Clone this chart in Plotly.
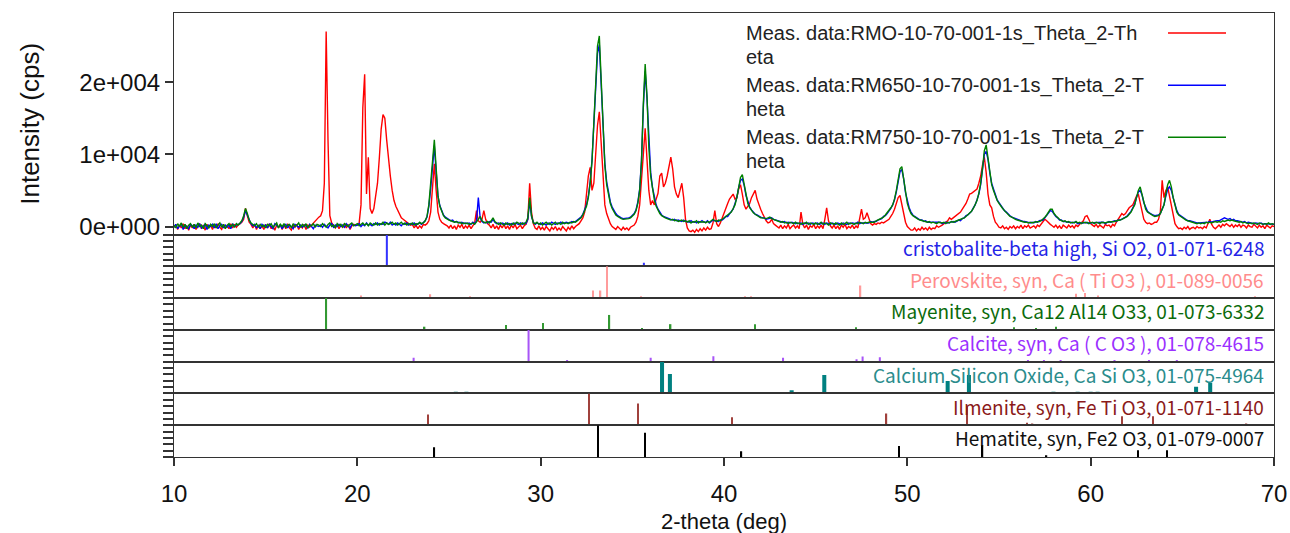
import plotly.graph_objects as go
from plotly.subplots import make_subplots

# ---------------- data ----------------
# scan axis: 10.0 .. 70.0 deg, 0.1 deg step (601 points)
two_theta = [round(10.0 + 0.1 * i, 1) for i in range(601)]

# intensities in units of 100 cps, one row per degree (D.0 .. D.9)
red_hcps = [
    -1, 3, -4, 2, -2, 4, -3, 1, -5, 2,        # 10
    -2, 3, -4, 1, 4, -3, 2, -5, 3, -1,        # 11
    2, -4, 3, -2, 4, -1, -4, 3, -2, 1,        # 12
    -3, 4, -2, 3, -1, 2, 4, 6, 10, 25,        # 13
    15, 6, 3, -2, 3, -4, 2, -3, 1, -4,        # 14
    3, -2, 4, -3, 1, -5, 2, -1, 3, -4,        # 15
    2, -3, 4, -2, -5, 2, -1, 3, -4, 1,        # 16
    -2, 3, -4, 2, -1, 2, 4, 7, 10, 13,        # 17
    15, 22, 60, 270, 120, 15, 5, 2, -2, 3,    # 18
    -3, 2, -1, 4, -2, 3, -4, 1, 3, 2,         # 19
    2, 5, 30, 165, 211, 45, 96, 25, 18, 25,   # 20
    40, 60, 95, 135, 155, 150, 120, 90, 70, 50,  # 21
    36, 28, 22, 16, 12, 10, 8, 6, 4, 2,       # 22
    3, -2, 2, -3, 1, -2, 3, 2, 4, 8,          # 23
    20, 55, 87, 50, 20, 10, 6, 4, 3, 1,       # 24
    -2, 2, -3, 1, -4, 2, -1, 3, -3, 1,        # 25
    -2, 2, -3, 1, 5, 22, 8, 6, 10, 22,        # 26
    10, 4, 2, -2, 3, -3, 1, -4, 2, -2,        # 27
    3, -3, 1, -4, 2, -2, 3, -3, 0, 2,         # 28
    -3, 1, 3, 10, 60, 20, 4, -2, -4, 1,       # 29
    -4, -1, -5, 0, -3, -6, -1, -4, 0, -5,     # 30
    -2, -5, 0, -3, -6, -1, -4, 1, -3, 0,      # 31
    2, 4, 8, 12, 20, 45, 70, 82, 50, 60,      # 32
    100, 140, 159, 110, 60, 30, 18, 10, 4, 0, # 33
    -2, -4, 0, -3, -5, -1, -4, -2, -5, -1,    # 34
    0, 2, 6, 14, 30, 60, 100, 136, 90, 50,    # 35
    30, 36, 30, 40, 46, 70, 74, 55, 60, 70,   # 36
    85, 96, 80, 55, 45, 40, 50, 60, 40, 10,   # 37
    -2, -6, -7, -5, -8, -4, -7, -3, -6, -2,   # 38
    -5, -1, -4, -3, 5, 22, 4, 0, 5, 12,       # 39
    20, 28, 32, 38, 42, 45, 38, 40, 52, 58,   # 40
    45, 30, 24, 28, 32, 40, 45, 50, 38, 30,   # 41
    24, 18, 12, 8, 5, 6, 10, 4, 2, 0,         # 42
    -2, 2, -3, 1, -2, 3, -3, 0, 2, -2,        # 43
    1, -3, 20, 3, -2, 2, -4, 1, -1, 3,        # 44
    -3, 1, -2, 2, -3, 10, 26, 8, 1, -2,       # 45
    2, -3, 1, -4, 2, -1, 3, -3, 0, -2,        # 46
    2, -3, 1, -2, 10, 24, 10, 12, 19, 10,     # 47
    4, 2, 4, 3, 5, 4, 6, 5, 7, 8,             # 48
    10, 14, 18, 24, 32, 40, 43, 30, 15, 6,    # 49
    0, -3, -5, -5, -2, -6, -3, -5, -1, -4,    # 50
    -2, -5, -1, -4, -2, -3, 1, -1, 0, 2,      # 51
    4, 6, 8, 12, 10, 12, 14, 16, 18, 20,      # 52
    24, 28, 32, 38, 45, 46, 48, 50, 52, 60,   # 53
    70, 85, 96, 75, 45, 30, 26, 14, 6, 3,     # 54
    -1, -2, 1, -3, -1, -4, 0, -2, 1, -3,      # 55
    0, -2, 2, -3, 1, -1, 2, -2, 0, 1,         # 56
    -2, 2, 0, 3, 6, 10, 8, 5, 3, 1,           # 57
    -1, 2, -2, 1, -3, 2, 0, -2, 2, -1,        # 58
    1, -2, 2, 0, 3, 5, 8, 14, 15, 10,         # 59
    4, 2, 0, 3, -1, 2, 0, -2, 3, 1,           # 60
    2, -1, 3, 1, 6, 10, 14, 18, 16, 18,       # 61
    22, 26, 28, 30, 36, 42, 45, 32, 18, 10,   # 62
    6, 4, 5, 3, 4, 6, 6, 10, 20, 64,          # 63
    40, 50, 55, 42, 25, 12, 4, 0, -3, -2,     # 64
    -4, -1, -3, 0, -4, -2, -1, -3, 0, -2,     # 65
    -1, -3, 0, -2, 4, 10, 3, -1, -3, 0,       # 66
    2, -1, 3, 1, 4, 2, 0, 3, -1, 2,           # 67
    0, 3, -1, 2, 1, -2, 2, 0, -1, 3,          # 68
    0, -2, 2, -1, 1, -3, 2, 0, -2, 1,         # 69
    0,                                        # 70
]

blue_hcps = [
    -1, 3, -3, 1, 4, -4, 2, 0, -3, 3,         # 10
    1, -3, 2, -1, 4, -2, 1, 3, -4, 2,         # 11
    0, 3, -2, 4, -3, 1, 3, -2, 2, -1,         # 12
    2, -3, 4, 0, 2, 3, 4, 7, 13, 22,          # 13
    16, 8, 4, 1, 3, -2, 2, -3, 3, 0,          # 14
    2, -2, 3, 0, -3, 4, 1, -1, 2, -3,         # 15
    1, 3, -2, 2, 0, -3, 3, 1, -1, 2,          # 16
    -1, 2, 1, -2, 3, 0, -3, 2, 1, 0,          # 17
    2, -1, 3, 0, -2, 2, 4, -1, 2, 0,          # 18
    3, 0, 2, -1, 4, 1, -2, 3, 2, 1,           # 19
    2, 4, 0, 3, 1, 5, 2, 3, 1, 4,             # 20
    3, 5, 2, 4, 3, 6, 5, 3, 6, 2,             # 21
    4, 2, 5, 3, 1, 4, 3, 5, 2, 4,             # 22
    3, 5, 2, 4, 5, 3, 6, 8, 13, 28,           # 23
    52, 86, 112, 76, 42, 29, 21, 16, 13, 11,  # 24
    10, 8, 9, 6, 7, 6, 5, 6, 4, 5,            # 25
    4, 5, 3, 6, 4, 8, 40, 12, 7, 5,           # 26
    6, 5, 7, 6, 10, 6, 4, 5, 3, 5,            # 27
    4, 3, 5, 2, 4, 3, 5, 4, 3, 5,             # 28
    3, 5, 4, 10, 35, 14, 6, 3, 5, 4,          # 29
    3, 5, 4, 2, 5, 3, 6, 4, 3, 5,             # 30
    4, 6, 4, 5, 6, 5, 5, 7, 6, 7,             # 31
    9, 10, 13, 17, 23, 30, 42, 62, 92, 140,   # 32
    195, 240, 252, 195, 130, 88, 62, 45, 34, 27,  # 33
    22, 18, 15, 13, 12, 11, 11, 11, 12, 13,   # 34
    15, 18, 23, 34, 52, 92, 165, 215, 178, 115,   # 35
    75, 54, 40, 30, 24, 20, 16, 14, 13, 11,   # 36
    11, 10, 9, 10, 8, 9, 8, 7, 9, 7,          # 37
    7, 6, 8, 6, 7, 5, 7, 6, 8, 6,             # 38
    6, 8, 5, 7, 9, 8, 8, 7, 9, 9,             # 39
    11, 14, 14, 18, 21, 24, 31, 40, 54, 64,   # 40
    66, 57, 43, 33, 27, 23, 20, 17, 16, 14,   # 41
    13, 12, 12, 10, 11, 12, 12, 10, 9, 9,     # 42
    8, 6, 6, 7, 5, 6, 5, 6, 5, 4,             # 43
    5, 4, 5, 3, 5, 4, 5, 3, 5, 4,             # 44
    4, 5, 3, 4, 5, 3, 5, 4, 3, 5,             # 45
    4, 3, 5, 4, 3, 5, 4, 3, 5, 4,             # 46
    5, 4, 4, 6, 4, 5, 5, 5, 6, 5,             # 47
    7, 6, 7, 7, 9, 10, 11, 14, 15, 18,        # 48
    21, 25, 30, 37, 48, 65, 76, 79, 66, 47,   # 49
    34, 26, 20, 16, 14, 12, 11, 9, 9, 7,      # 50
    8, 6, 6, 6, 5, 6, 5, 5, 6, 4,             # 51
    5, 6, 5, 6, 6, 7, 6, 7, 9, 8,             # 52
    11, 12, 15, 16, 19, 21, 26, 30, 37, 45,   # 53
    58, 78, 100, 104, 93, 74, 60, 52, 44, 37, # 54
    33, 29, 26, 22, 20, 17, 15, 13, 12, 11,   # 55
    10, 8, 8, 7, 7, 6, 6, 5, 6, 5,            # 56
    7, 6, 8, 8, 9, 12, 15, 19, 22, 21,        # 57
    17, 14, 12, 9, 9, 7, 7, 6, 6, 6,          # 58
    5, 6, 6, 4, 5, 5, 5, 6, 5, 5,             # 59
    6, 5, 5, 5, 6, 5, 5, 6, 4, 6,             # 60
    7, 6, 7, 8, 7, 9, 9, 10, 12, 13,          # 61
    15, 18, 21, 26, 31, 40, 48, 50, 44, 33,   # 62
    26, 21, 19, 17, 16, 15, 15, 16, 18, 23,   # 63
    30, 42, 52, 55, 50, 40, 30, 22, 17, 15,   # 64
    13, 11, 9, 8, 8, 7, 6, 5, 5, 5,           # 65
    5, 6, 5, 6, 6, 7, 6, 7, 8, 8,             # 66
    8, 9, 10, 12, 11, 10, 11, 9, 10, 8,       # 67
    8, 7, 7, 6, 7, 5, 6, 5, 5, 4,             # 68
    5, 4, 4, 5, 3, 4, 4, 3, 4, 3,             # 69
    3,                                        # 70
]

green_hcps = [
    2, -2, 4, 0, 5, -1, 3, -3, 2, 4,          # 10
    -1, 3, -2, 5, 0, 2, -3, 4, 1, -2,         # 11
    3, 0, 4, -2, 2, 5, -1, 3, -3, 2,          # 12
    4, 0, 3, -1, 4, 2, 5, 8, 15, 25,          # 13
    18, 9, 5, 3, 1, 4, -1, 3, 0, 2,           # 14
    -2, 3, 1, 4, -1, 2, 5, -2, 3, 0,          # 15
    4, -1, 2, 3, -2, 4, 0, 2, 5, -1,          # 16
    3, 0, 4, -2, 2, 1, 4, -1, 3, 2,           # 17
    0, 4, 2, -1, 3, 5, 0, 2, -2, 4,           # 18
    1, 3, -1, 4, 2, 0, 3, 5, 1, 2,            # 19
    4, 1, 3, 5, 2, 4, 1, 5, 3, 2,             # 20
    5, 2, 4, 3, 6, 2, 5, 3, 4, 6,             # 21
    3, 5, 2, 4, 6, 3, 5, 2, 4, 3,             # 22
    5, 2, 4, 3, 6, 4, 5, 8, 14, 30,           # 23
    55, 90, 120, 78, 42, 28, 20, 15, 12, 10,  # 24
    9, 8, 7, 6, 7, 5, 6, 4, 5, 4,             # 25
    5, 3, 4, 5, 3, 6, 10, 14, 8, 6,           # 26
    5, 7, 5, 8, 12, 7, 5, 3, 5, 4,            # 27
    2, 5, 3, 4, 2, 5, 3, 6, 4, 3,             # 28
    5, 3, 6, 12, 40, 15, 5, 4, 6, 3,          # 29
    5, 2, 4, 6, 3, 5, 2, 4, 6, 3,             # 30
    5, 3, 6, 4, 5, 4, 6, 5, 7, 6,             # 31
    8, 9, 12, 16, 22, 28, 40, 60, 90, 140,    # 32
    200, 250, 264, 200, 130, 85, 58, 42, 32, 25,  # 33
    20, 16, 14, 12, 11, 10, 10, 10, 11, 12,   # 34
    14, 17, 22, 32, 50, 90, 170, 225, 180, 110,   # 35
    70, 50, 37, 28, 22, 18, 15, 13, 12, 11,   # 36
    10, 9, 10, 8, 9, 7, 8, 9, 7, 8,           # 37
    6, 8, 5, 7, 6, 8, 5, 7, 6, 7,             # 38
    5, 7, 6, 8, 10, 8, 7, 9, 8, 10,           # 39
    12, 13, 15, 17, 20, 25, 30, 40, 55, 68,   # 40
    72, 58, 42, 32, 26, 22, 19, 17, 15, 14,   # 41
    12, 12, 11, 11, 12, 13, 11, 10, 9, 8,     # 42
    7, 6, 7, 5, 6, 4, 6, 5, 4, 6,             # 43
    4, 5, 3, 5, 4, 6, 3, 5, 4, 3,             # 44
    5, 3, 4, 6, 3, 5, 4, 2, 5, 4,             # 45
    3, 5, 4, 2, 5, 3, 4, 6, 3, 5,             # 46
    4, 3, 5, 4, 6, 5, 4, 6, 5, 6,             # 47
    6, 7, 6, 8, 9, 10, 12, 13, 16, 19,        # 48
    22, 26, 30, 38, 50, 68, 80, 83, 65, 45,   # 49
    32, 24, 18, 15, 13, 12, 10, 9, 8, 8,      # 50
    7, 6, 7, 5, 6, 5, 4, 6, 5, 5,             # 51
    6, 4, 6, 5, 7, 6, 7, 8, 8, 9,             # 52
    10, 12, 14, 16, 18, 21, 25, 30, 36, 46,   # 53
    60, 80, 105, 113, 95, 72, 58, 50, 42, 36, # 54
    32, 28, 25, 22, 19, 16, 14, 13, 11, 10,   # 55
    9, 8, 7, 7, 6, 6, 5, 6, 5, 6,             # 56
    6, 7, 7, 8, 10, 13, 16, 20, 24, 24,       # 57
    18, 15, 12, 10, 8, 7, 8, 6, 7, 5,         # 58
    6, 5, 7, 5, 6, 4, 6, 5, 6, 4,             # 59
    5, 6, 4, 6, 5, 4, 6, 5, 5, 6,             # 60
    6, 7, 6, 7, 8, 8, 9, 10, 11, 12,          # 61
    14, 17, 20, 25, 30, 40, 50, 55, 45, 32,   # 62
    24, 20, 18, 16, 15, 14, 14, 15, 18, 24,   # 63
    30, 45, 58, 64, 55, 40, 28, 20, 16, 14,   # 64
    12, 10, 9, 8, 7, 6, 5, 5, 4, 5,           # 65
    4, 5, 4, 6, 5, 6, 5, 6, 7, 6,             # 66
    7, 6, 8, 7, 8, 9, 8, 9, 8, 7,             # 67
    7, 6, 7, 5, 6, 5, 4, 5, 4, 5,             # 68
    4, 3, 5, 4, 3, 4, 3, 5, 3, 4,             # 69
    3,                                        # 70
]

series_names = [
    "Meas. data:RMO-10-70-001-1s_Theta_2-Theta",
    "Meas. data:RM650-10-70-001-1s_Theta_2-Theta",
    "Meas. data:RM750-10-70-001-1s_Theta_2-Theta",
]
legend_lines = [
    ["Meas. data:RMO-10-70-001-1s_Theta_2-Th", "eta"],
    ["Meas. data:RM650-10-70-001-1s_Theta_2-T", "heta"],
    ["Meas. data:RM750-10-70-001-1s_Theta_2-T", "heta"],
]
series_colors = ["#FF0000", "#0000FF", "#008000"]

# reference phase stick patterns (2-theta, relative intensity %)
phase_labels = [
    "cristobalite-beta high, Si O2, 01-071-6248",
    "Perovskite, syn, Ca ( Ti O3 ), 01-089-0056",
    "Mayenite, syn, Ca12 Al14 O33, 01-073-6332",
    "Calcite, syn, Ca ( C O3 ), 01-078-4615",
    "Calcium Silicon Oxide, Ca Si O3, 01-075-4964",
    "Ilmenite, syn, Fe Ti O3, 01-071-1140",
    "Hematite, syn, Fe2 O3, 01-079-0007",
]
cristobalite_pos = [21.61, 35.63]
cristobalite_int = [100, 11]
perovskite_pos = [20.21, 23.99, 26.15, 32.85, 33.27, 33.60, 35.47, 41.16, 41.47,
                  47.45, 59.20, 59.68, 60.39, 68.98]
perovskite_int = [8, 12, 5, 24, 24, 100, 5, 4, 4, 40, 14, 16, 8, 5]
mayenite_pos = [18.31, 23.67, 28.10, 30.12, 33.75, 35.52, 37.09, 41.68, 47.20,
                55.82, 57.01, 58.12]
mayenite_int = [100, 10, 15, 22, 47, 6, 18, 18, 8, 8, 6, 10]
calcite_pos = [23.07, 29.34, 31.44, 36.00, 39.42, 43.22, 47.23, 47.56, 48.50,
               56.58, 57.45, 58.36, 61.30, 63.18, 64.70]
calcite_int = [12, 100, 4, 12, 17, 12, 8, 16, 14, 3, 3, 3, 3, 3, 3]
cso_pos = [25.37, 25.95, 36.62, 37.05, 43.69, 45.47, 52.20, 53.36, 57.97, 59.29,
           60.00, 60.38, 65.75, 66.52]
cso_int = [3, 3, 100, 61, 10, 58, 39, 58, 3, 3, 3, 3, 21, 34]
ilmenite_pos = [23.85, 32.63, 35.30, 40.43, 48.86, 53.27, 56.53, 56.83, 61.72,
                63.39, 68.50]
ilmenite_int = [34, 100, 68, 25, 37, 58, 8, 4, 28, 28, 4]
hematite_pos = [24.20, 33.13, 35.70, 40.95, 49.55, 54.10, 57.59, 62.57, 64.15]
hematite_int = [31, 100, 76, 18, 35, 38, 5, 21, 21]

phase_pos = [cristobalite_pos, perovskite_pos, mayenite_pos, calcite_pos,
             cso_pos, ilmenite_pos, hematite_pos]
phase_int = [cristobalite_int, perovskite_int, mayenite_int, calcite_int,
             cso_int, ilmenite_int, hematite_int]
phase_bar_colors = ["#3333FF", "#FF9C9C", "#339933", "#A855F7", "#008080",
                    "#A0413C", "#000000"]
phase_label_colors = ["#2424E6", "#FF8C8C", "#0B6B0B", "#9B30FF", "#2A8C8C",
                      "#8B1A1A", "#111111"]
phase_bar_widths = [0.11, 0.07, 0.08, 0.11, 0.22, 0.08, 0.08]

x_tick_vals = [10, 20, 30, 40, 50, 60, 70]
y_tick_vals = [0, 10000, 20000]
y_tick_text = ["0e+000", "1e+004", "2e+004"]

# ---------------- figure ----------------
W, H = 1290, 533
ML, MR, MT, MB = 174, 16, 13, 76
PW = W - ML - MR
main_h = 221
panel_h = 31.7
row_heights = [main_h] + [panel_h] * 7

fig = make_subplots(rows=8, cols=1, shared_xaxes=True, vertical_spacing=0,
                    row_heights=row_heights)

scale = 100  # data stored in hundreds of cps
for name, ys, col in zip(series_names, [red_hcps, blue_hcps, green_hcps], series_colors):
    fig.add_trace(go.Scatter(x=two_theta, y=[v * scale for v in ys], mode="lines",
                             name=name, line=dict(color=col, width=1.4),
                             showlegend=False), row=1, col=1)

for i in range(7):
    fig.add_trace(go.Bar(x=phase_pos[i], y=phase_int[i], width=phase_bar_widths[i],
                         marker=dict(color=phase_bar_colors[i], line=dict(width=0)),
                         name=phase_labels[i], showlegend=False), row=i + 2, col=1)

axis_col = "#333333"
fig.update_xaxes(range=[10, 70], showgrid=False, zeroline=False, showline=True,
                 linecolor=axis_col, linewidth=1.2, mirror=True, ticks="",
                 showticklabels=False, automargin=False)
fig.update_xaxes(row=8, col=1, ticks="outside", ticklen=8, tickwidth=1.5,
                 tickcolor=axis_col, tickvals=x_tick_vals, showticklabels=True,
                 tickfont=dict(family="Liberation Sans, Arial", size=24, color="#111"),
                 ticklabelstandoff=7)

fig.update_yaxes(showgrid=False, zeroline=False, showline=True, linecolor=axis_col,
                 linewidth=1.2, mirror=True, automargin=False)
fig.update_yaxes(row=1, col=1, range=[-1110, 29580], tickvals=y_tick_vals,
                 ticktext=y_tick_text, ticks="outside", ticklen=8, tickwidth=1.5,
                 tickcolor=axis_col,
                 tickfont=dict(family="Liberation Sans, Arial", size=24, color="#111"))
for r in range(2, 9):
    fig.update_yaxes(row=r, col=1, range=[0, 100], tickvals=[0, 20, 40, 60, 80, 100],
                     ticks="outside", ticklen=10, tickwidth=1.5, tickcolor=axis_col,
                     showticklabels=False)

annotations = []
# legend (text left, line sample right)
leg_font = dict(family="Liberation Sans, Arial", size=20, color="#222222")
leg_text_x = (744 - ML) / PW
item_y_px = [33, 85, 137]
shapes = []
for k, lines in enumerate(legend_lines):
    for j, txt in enumerate(lines):
        py = item_y_px[k] + 24 * j
        annotations.append(dict(text=txt, xref="x domain", yref="y domain",
                                x=leg_text_x, y=(MT + main_h - py) / main_h,
                                xanchor="left", yanchor="middle", showarrow=False,
                                font=leg_font))
    yl = (MT + main_h - item_y_px[k]) / main_h
    shapes.append(dict(type="line", xref="x domain", yref="y domain",
                       x0=(1168 - ML) / PW, x1=(1226 - ML) / PW, y0=yl, y1=yl,
                       line=dict(color=series_colors[k], width=1.5)))

# phase labels
for i in range(7):
    ax = str(i + 2)
    annotations.append(dict(text=phase_labels[i], xref=f"x{ax} domain",
                            yref=f"y{ax} domain", x=(1266 - ML) / PW, y=0.6,
                            xanchor="right", yanchor="middle", showarrow=False,
                            font=dict(family="Noto Sans CJK JP", size=19,
                                      color=phase_label_colors[i])))

# axis titles
plot_h = H - MT - MB
annotations.append(dict(text="Intensity (cps)", xref="paper", yref="y domain",
                        x=(30 - ML) / PW, y=0.5, textangle=-90, showarrow=False,
                        xanchor="center", yanchor="middle",
                        font=dict(family="Liberation Sans, Arial", size=26, color="#111")))
annotations.append(dict(text="2-theta (deg)", xref="paper", yref="paper",
                        x=0.5, y=(H - MB - 521) / plot_h, showarrow=False,
                        xanchor="center", yanchor="middle",
                        font=dict(family="Liberation Sans, Arial", size=22, color="#111")))

fig.update_layout(width=W, height=H, margin=dict(l=ML, r=MR, t=MT, b=MB),
                  paper_bgcolor="white", plot_bgcolor="white", barmode="overlay",
                  showlegend=False, annotations=annotations, shapes=shapes)

assert len(red_hcps) == len(blue_hcps) == len(green_hcps) == len(two_theta)
fig.write_html("out.html")
